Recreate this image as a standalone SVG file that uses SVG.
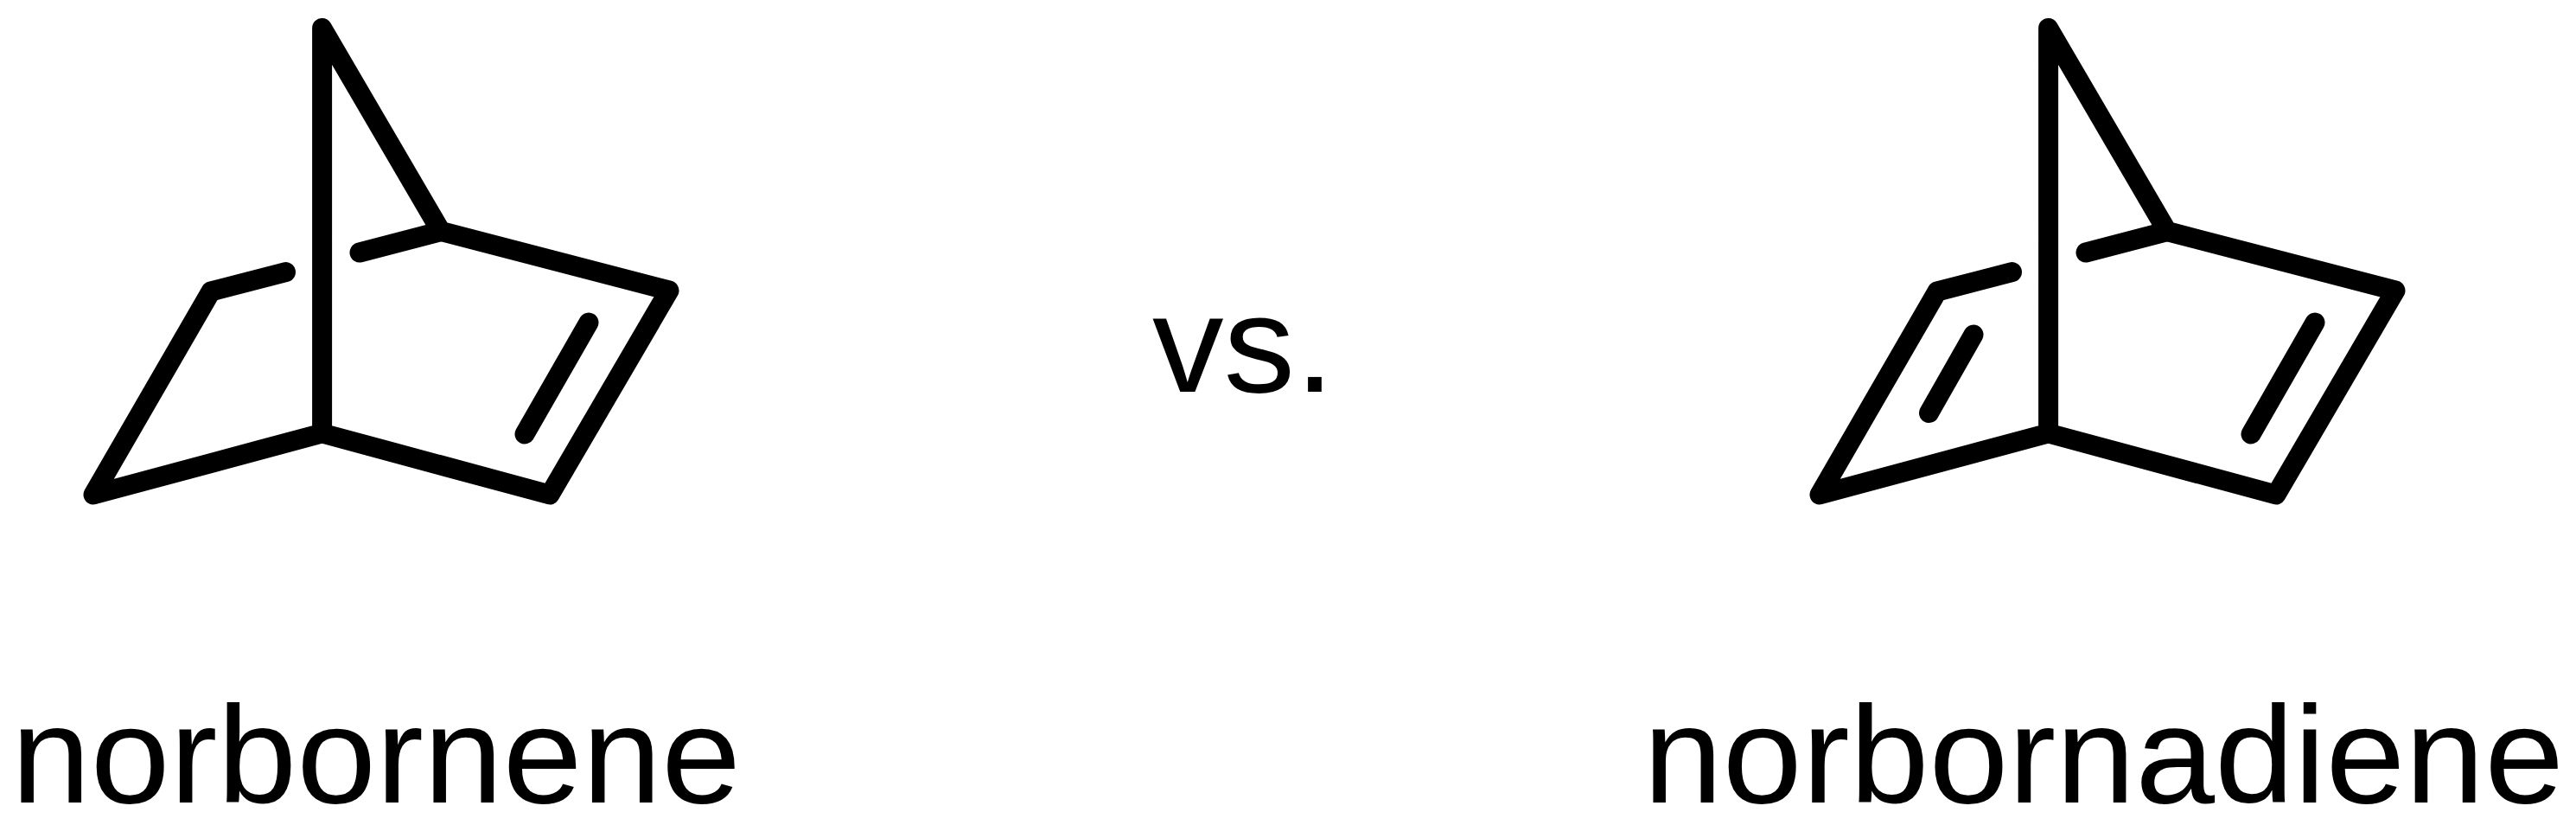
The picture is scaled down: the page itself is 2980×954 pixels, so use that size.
<svg xmlns="http://www.w3.org/2000/svg" width="2980" height="954" viewBox="0 0 2980 954">
<style>
.b{fill:none;stroke:#000;stroke-width:23;stroke-linecap:round;stroke-linejoin:round}
.t{font-family:"Liberation Sans",Arial,sans-serif;font-size:160px;fill:#000}
</style>
<defs>
<g id="core" class="b">
<path d="M372.6 501V32.5L510 267.5L774 336L636 572L372.6 501L108 572L244 337L330.5 314.6"/>
<path d="M510 267.5L416 292"/>
<path d="M681 373L607 502"/>
</g>
</defs>
<rect width="2980" height="954" fill="#fff"/>
<g id="norbornene-mol"><use href="#core"/></g>
<g id="norbornadiene-mol"><use href="#core" x="1997"/><path class="b" d="M2283 387L2231.5 477.5"/></g>
<text id="vs" class="t" x="1333" y="453" textLength="211" lengthAdjust="spacingAndGlyphs">vs.</text>
<text id="label-norbornene" class="t" x="13" y="928" textLength="844" lengthAdjust="spacingAndGlyphs">norbornene</text>
<text id="label-norbornadiene" class="t" x="1901" y="928" textLength="1065" lengthAdjust="spacingAndGlyphs">norbornadiene</text>
</svg>
